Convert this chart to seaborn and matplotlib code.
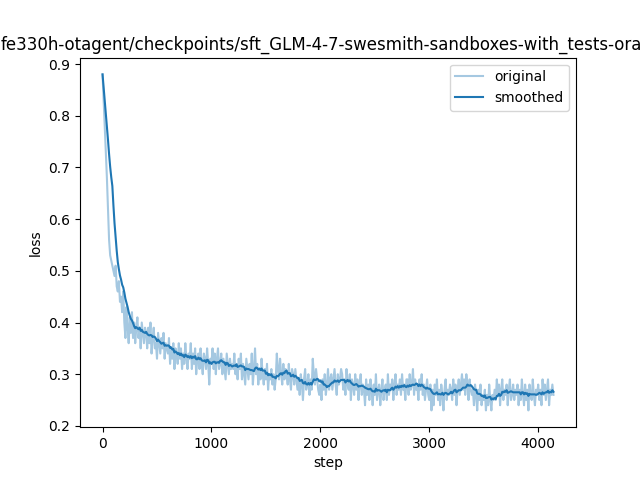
import numpy as np
import pandas as pd
import seaborn as sns
import matplotlib
matplotlib.use("Agg")
import matplotlib.pyplot as plt

# logged every 10 steps
steps = np.arange(0, 4150, 10)

loss = [
    0.88, 0.83, 0.78, 0.73, 0.68, 0.62, 0.56, 0.53, 0.52, 0.51, 0.50, 0.49, 0.51, 0.47, 0.46, 0.48, 0.44, 0.45, 0.42, 0.46,
    0.40, 0.37, 0.43, 0.39, 0.36, 0.41, 0.38, 0.42, 0.37, 0.40, 0.36, 0.39, 0.41, 0.37, 0.39, 0.35, 0.40, 0.38, 0.36, 0.39,
    0.38, 0.35, 0.39, 0.36, 0.40, 0.34, 0.37, 0.39, 0.35, 0.36, 0.33, 0.38, 0.36, 0.34, 0.37, 0.35, 0.38, 0.33, 0.36, 0.35,
    0.34, 0.37, 0.32, 0.35, 0.33, 0.36, 0.31, 0.35, 0.34, 0.32, 0.36, 0.33, 0.35, 0.31, 0.34, 0.32, 0.36, 0.33, 0.31, 0.34,
    0.33, 0.36, 0.31, 0.34, 0.32, 0.35, 0.30, 0.33, 0.34, 0.31, 0.35, 0.32, 0.30, 0.34, 0.33, 0.31, 0.35, 0.32, 0.28, 0.33,
    0.32, 0.35, 0.31, 0.34, 0.30, 0.33, 0.35, 0.31, 0.32, 0.34, 0.30, 0.33, 0.31, 0.29, 0.34, 0.32, 0.30, 0.33, 0.31, 0.32,
    0.31, 0.34, 0.30, 0.32, 0.29, 0.33, 0.31, 0.34, 0.29, 0.32, 0.30, 0.28, 0.33, 0.31, 0.29, 0.32, 0.30, 0.34, 0.28, 0.31,
    0.35, 0.30, 0.32, 0.28, 0.31, 0.29, 0.33, 0.30, 0.28, 0.31, 0.29, 0.32, 0.27, 0.30, 0.29, 0.31, 0.28, 0.30, 0.27, 0.29,
    0.34, 0.31, 0.29, 0.33, 0.30, 0.28, 0.32, 0.29, 0.31, 0.30, 0.28, 0.32, 0.29, 0.27, 0.31, 0.30, 0.28, 0.31, 0.29, 0.27,
    0.29, 0.26, 0.30, 0.28, 0.25, 0.29, 0.31, 0.27, 0.28, 0.30, 0.26, 0.29, 0.27, 0.33, 0.30, 0.28, 0.31, 0.29, 0.27, 0.26,
    0.28, 0.25, 0.29, 0.27, 0.30, 0.26, 0.28, 0.31, 0.27, 0.29, 0.30, 0.27, 0.29, 0.31, 0.28, 0.26, 0.30, 0.28, 0.29, 0.31,
    0.30, 0.27, 0.29, 0.26, 0.31, 0.28, 0.27, 0.30, 0.25, 0.29, 0.28, 0.26, 0.30, 0.27, 0.29, 0.25, 0.28, 0.30, 0.26, 0.28,
    0.27, 0.24, 0.29, 0.26, 0.28, 0.25, 0.29, 0.27, 0.24, 0.28, 0.26, 0.30, 0.25, 0.27, 0.28, 0.24, 0.27, 0.29, 0.25, 0.27,
    0.28, 0.25, 0.30, 0.26, 0.28, 0.27, 0.29, 0.25, 0.28, 0.30, 0.26, 0.28, 0.27, 0.29, 0.26, 0.30, 0.27, 0.28, 0.25, 0.29,
    0.29, 0.26, 0.30, 0.27, 0.28, 0.31, 0.26, 0.29, 0.27, 0.28, 0.25, 0.29, 0.27, 0.30, 0.26, 0.28, 0.25, 0.27, 0.29, 0.26,
    0.25, 0.28, 0.23, 0.27, 0.24, 0.28, 0.26, 0.29, 0.25, 0.27, 0.24, 0.28, 0.26, 0.23, 0.27, 0.29, 0.25, 0.27, 0.26, 0.28,
    0.27, 0.25, 0.29, 0.26, 0.28, 0.24, 0.27, 0.29, 0.26, 0.28, 0.30, 0.27, 0.29, 0.26, 0.30, 0.28, 0.25, 0.29, 0.27, 0.26,
    0.27, 0.24, 0.28, 0.26, 0.23, 0.27, 0.25, 0.28, 0.24, 0.26, 0.25, 0.27, 0.23, 0.26, 0.24, 0.28, 0.25, 0.23, 0.26, 0.25,
    0.27, 0.25, 0.29, 0.26, 0.28, 0.24, 0.27, 0.29, 0.25, 0.27, 0.26, 0.28, 0.24, 0.27, 0.29, 0.25, 0.26, 0.28, 0.25, 0.27,
    0.26, 0.28, 0.24, 0.27, 0.25, 0.29, 0.26, 0.24, 0.28, 0.25, 0.27, 0.23, 0.28, 0.26, 0.25, 0.29, 0.26, 0.24, 0.27, 0.26,
    0.28, 0.25, 0.27, 0.24, 0.29, 0.26, 0.28, 0.25, 0.27, 0.29, 0.24, 0.27, 0.26, 0.28, 0.26,
]

title = "fe330h-otagent/checkpoints/sft_GLM-4-7-swesmith-sandboxes-with_tests-oracl"

df = pd.DataFrame({"step": steps, "loss": loss})
df["smoothed"] = df["loss"].rolling(10, min_periods=1).mean()

fig, ax = plt.subplots(figsize=(6.4, 4.8), dpi=100)
sns.lineplot(data=df, x="step", y="loss", ax=ax, color="tab:blue", alpha=0.4, label="original")
sns.lineplot(data=df, x="step", y="smoothed", ax=ax, color="tab:blue", label="smoothed")
ax.set_title(title)
ax.set_xlabel("step")
ax.set_ylabel("loss")
ax.legend(loc="upper right")
plt.savefig("out.png")
